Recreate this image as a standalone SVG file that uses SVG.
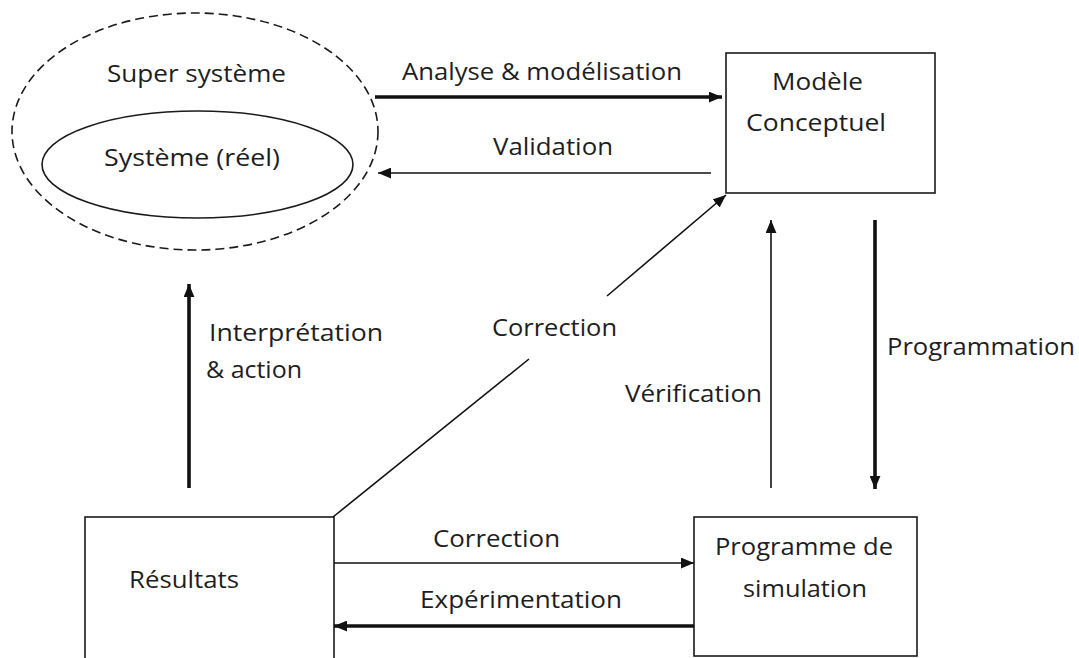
<svg xmlns="http://www.w3.org/2000/svg" width="1079" height="658" viewBox="0 0 1079 658">
<style>
text{font-family:"Open Sans","Noto Sans","DejaVu Sans",sans-serif;font-size:23px;fill:#1e1e1e}
.box{fill:#fff;stroke:#1a1a1a;stroke-width:1.6}
.thin{stroke:#111;stroke-width:1.6;fill:none}
.thick{stroke:#111;stroke-width:3.6;fill:none}
</style>
<defs>
<marker id="ah" viewBox="0 0 12 10" refX="12" refY="5" markerWidth="13" markerHeight="11" markerUnits="userSpaceOnUse" orient="auto">
<path d="M0,0 L12,5 L0,10 Z" fill="#111"/>
</marker>
</defs>
<rect width="1079" height="658" fill="#fff"/>

<g id="super-systeme">
<ellipse cx="195" cy="131.5" rx="183" ry="118.5" fill="none" stroke="#1a1a1a" stroke-width="1.6" stroke-dasharray="9,5"/>
<text x="107" y="82" textLength="179" lengthAdjust="spacingAndGlyphs">Super système</text>
</g>
<g id="systeme">
<ellipse cx="197.5" cy="164.5" rx="155.5" ry="53.5" fill="none" stroke="#1a1a1a" stroke-width="1.6"/>
<text x="104" y="166" textLength="176" lengthAdjust="spacingAndGlyphs">Système (réel)</text>
</g>
<g id="modele">
<rect class="box" x="726" y="53" width="209" height="140"/>
<text x="772" y="90" textLength="91" lengthAdjust="spacingAndGlyphs">Modèle</text>
<text x="746" y="131" textLength="140" lengthAdjust="spacingAndGlyphs">Conceptuel</text>
</g>
<g id="resultats">
<rect class="box" x="85" y="517" width="249" height="160"/>
<text x="129" y="588" textLength="110" lengthAdjust="spacingAndGlyphs">Résultats</text>
</g>
<g id="programme">
<rect class="box" x="694" y="517" width="223" height="139"/>
<text x="715" y="555" textLength="178" lengthAdjust="spacingAndGlyphs">Programme de</text>
<text x="743" y="597" textLength="124" lengthAdjust="spacingAndGlyphs">simulation</text>
</g>

<g id="connectors">
<line class="thick" x1="375" y1="97" x2="722" y2="97" marker-end="url(#ah)"/>
<line class="thin" x1="711" y1="173" x2="378" y2="173" marker-end="url(#ah)"/>
<line class="thick" x1="189" y1="488" x2="189" y2="284" marker-end="url(#ah)"/>
<line class="thin" x1="333" y1="517" x2="529" y2="359"/>
<line class="thin" x1="607" y1="296" x2="726" y2="195" marker-end="url(#ah)"/>
<line class="thin" x1="771" y1="488" x2="771" y2="220" marker-end="url(#ah)"/>
<line class="thick" x1="875" y1="220" x2="875" y2="489" marker-end="url(#ah)"/>
<line class="thin" x1="334" y1="563" x2="694" y2="563" marker-end="url(#ah)"/>
<line class="thick" x1="694" y1="626" x2="334" y2="626" marker-end="url(#ah)"/>
</g>

<g id="labels">
<text x="402" y="80" textLength="280" lengthAdjust="spacingAndGlyphs">Analyse &amp; modélisation</text>
<text x="493" y="155" textLength="120" lengthAdjust="spacingAndGlyphs">Validation</text>
<text x="209" y="341" textLength="174" lengthAdjust="spacingAndGlyphs">Interprétation</text>
<text x="206" y="378" textLength="96" lengthAdjust="spacingAndGlyphs">&amp; action</text>
<text x="492" y="336" textLength="125" lengthAdjust="spacingAndGlyphs">Correction</text>
<text x="625" y="402" textLength="137" lengthAdjust="spacingAndGlyphs">Vérification</text>
<text x="887" y="355" textLength="188" lengthAdjust="spacingAndGlyphs">Programmation</text>
<text x="433" y="547" textLength="127" lengthAdjust="spacingAndGlyphs">Correction</text>
<text x="420" y="608" textLength="202" lengthAdjust="spacingAndGlyphs">Expérimentation</text>
</g>
</svg>
